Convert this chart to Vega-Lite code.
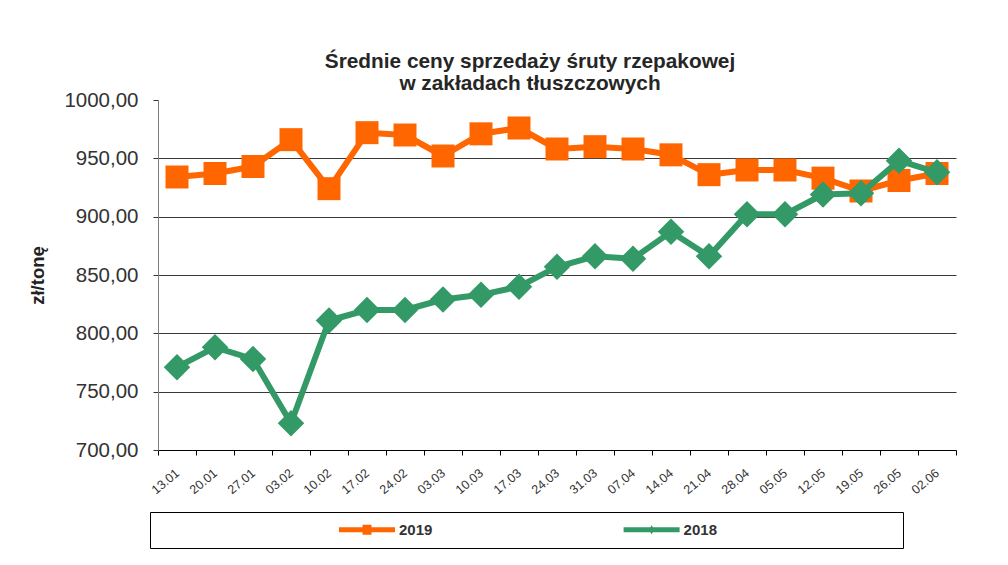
{
  "$schema": "https://vega.github.io/schema/vega-lite/v6.json",
  "width": 798,
  "height": 350,
  "autosize": {"type": "none"},
  "padding": {"left": 158, "top": 100, "right": 52, "bottom": 115},
  "background": "white",
  "config": {"view": {"stroke": null}, "font": "Liberation Sans"},
  "title": {
    "text": ["Średnie ceny sprzedaży śruty rzepakowej", "w zakładach tłuszczowych"],
    "fontSize": 20.8,
    "font": "Liberation Sans",
    "fontWeight": "bold",
    "color": "#262626",
    "lineHeight": 22.5,
    "anchor": "middle",
    "dx": -27,
    "offset": -5
  },
  "data": {
    "values": [
      {"date": "13.01", "series": "2019", "value": 934},
      {"date": "20.01", "series": "2019", "value": 937},
      {"date": "27.01", "series": "2019", "value": 943},
      {"date": "03.02", "series": "2019", "value": 966},
      {"date": "10.02", "series": "2019", "value": 924},
      {"date": "17.02", "series": "2019", "value": 972},
      {"date": "24.02", "series": "2019", "value": 970},
      {"date": "03.03", "series": "2019", "value": 952},
      {"date": "10.03", "series": "2019", "value": 971},
      {"date": "17.03", "series": "2019", "value": 976},
      {"date": "24.03", "series": "2019", "value": 958},
      {"date": "31.03", "series": "2019", "value": 960},
      {"date": "07.04", "series": "2019", "value": 958},
      {"date": "14.04", "series": "2019", "value": 953},
      {"date": "21.04", "series": "2019", "value": 936},
      {"date": "28.04", "series": "2019", "value": 940},
      {"date": "05.05", "series": "2019", "value": 940},
      {"date": "12.05", "series": "2019", "value": 933},
      {"date": "19.05", "series": "2019", "value": 922},
      {"date": "26.05", "series": "2019", "value": 931},
      {"date": "02.06", "series": "2019", "value": 937},
      {"date": "13.01", "series": "2018", "value": 771},
      {"date": "20.01", "series": "2018", "value": 788},
      {"date": "27.01", "series": "2018", "value": 778},
      {"date": "03.02", "series": "2018", "value": 723},
      {"date": "10.02", "series": "2018", "value": 811},
      {"date": "17.02", "series": "2018", "value": 820},
      {"date": "24.02", "series": "2018", "value": 820},
      {"date": "03.03", "series": "2018", "value": 829},
      {"date": "10.03", "series": "2018", "value": 833},
      {"date": "17.03", "series": "2018", "value": 840},
      {"date": "24.03", "series": "2018", "value": 857},
      {"date": "31.03", "series": "2018", "value": 866},
      {"date": "07.04", "series": "2018", "value": 864},
      {"date": "14.04", "series": "2018", "value": 887},
      {"date": "21.04", "series": "2018", "value": 866},
      {"date": "28.04", "series": "2018", "value": 902},
      {"date": "05.05", "series": "2018", "value": 902},
      {"date": "12.05", "series": "2018", "value": 919},
      {"date": "19.05", "series": "2018", "value": 920},
      {"date": "26.05", "series": "2018", "value": 948},
      {"date": "02.06", "series": "2018", "value": 938}
    ]
  },
  "encoding": {
    "x": {
      "field": "date",
      "type": "ordinal",
      "sort": null,
      "scale": {"type": "band", "paddingInner": 0, "paddingOuter": 0},
      "axis": {
        "title": null,
        "labelAngle": -40,
        "labelAlign": "right",
        "labelBaseline": "middle",
        "labelFontSize": 12.5,
        "labelFont": "Liberation Sans",
        "labelColor": "#333333",
        "labelPadding": 16,
        "labelOffset": 0,
        "labelOverlap": false,
        "tickBand": "extent",
        "tickSize": 5,
        "tickColor": "#000000",
        "domainColor": "#000000",
        "grid": false
      }
    },
    "y": {
      "field": "value",
      "type": "quantitative",
      "scale": {"domain": [700, 1000], "nice": false, "zero": false},
      "axis": {
        "title": "zł/tonę",
        "titleFontSize": 18.5,
        "titleFont": "Liberation Sans",
        "titleFontWeight": "bold",
        "titleColor": "#222222",
        "titlePadding": 16,
        "values": [700, 750, 800, 850, 900, 950, 1000],
        "labelExpr": "replace(format(datum.value, '.2f'), '.', ',')",
        "labelFontSize": 20.5,
        "labelFont": "Liberation Sans",
        "labelColor": "#333333",
        "labelPadding": 15,
        "tickSize": 5,
        "tickColor": "#333333",
        "domainColor": "#808080",
        "grid": true,
        "gridColor": {"condition": {"test": "datum.value >= 1000 || datum.value <= 700", "value": "transparent"}, "value": "#3a3a3a"},
        "gridWidth": 1
      }
    },
    "color": {
      "field": "series",
      "type": "nominal",
      "scale": {"domain": ["2019", "2018"], "range": ["#FF6600", "#339966"]},
      "legend": {
        "orient": "none",
        "legendX": -8,
        "legendY": 412,
        "direction": "horizontal",
        "title": " ",
        "titleOrient": "left",
        "titlePadding": 199.5,
        "titleFontSize": 15,
        "titleFontWeight": "normal",
        "padding": 10,
        "strokeColor": "#000000",
        "fillColor": "white",
        "symbolSize": 144,
        "symbolStrokeWidth": 0,
        "labelFontSize": 15,
        "labelFont": "Liberation Sans",
        "labelFontWeight": "bold",
        "labelColor": "#333333",
        "labelOffset": 24.5,
        "labelLimit": 500,
        "columnPadding": 190.6,
        "labelExpr": "datum.label == '2018' ? pad(datum.label, 20, '⠀') : datum.label",
        "encode": {
          "symbols": {
            "update": {
              "shape": {"signal": "datum.value == '2019' ? 'M-4.667,-0.42H4.667V0.42H-4.667Z M-0.75,-0.83H0.75V0.83H-0.75Z' : 'M-4.667,-0.42H4.667V0.42H-4.667Z M0,-0.75L0.47,0L0,0.75L-0.47,0Z'"},
              "fill": {"signal": "datum.value == '2019' ? '#FF6600' : '#339966'"},
              "stroke": {"value": "transparent"},
              "opacity": {"value": 1}
            }
          }
        }
      }
    }
  },
  "layer": [
    {"transform": [{"filter": "datum.series == '2019'"}], "mark": {"type": "line", "strokeWidth": 6, "strokeJoin": "round"}},
    {"transform": [{"filter": "datum.series == '2019'"}], "mark": {"type": "point", "shape": "square", "filled": true, "size": 529, "opacity": 1}},
    {"transform": [{"filter": "datum.series == '2018'"}], "mark": {"type": "line", "strokeWidth": 6, "strokeJoin": "round"}},
    {"transform": [{"filter": "datum.series == '2018'"}], "mark": {"type": "point", "shape": "diamond", "filled": true, "size": 700, "opacity": 1}}
  ]
}
